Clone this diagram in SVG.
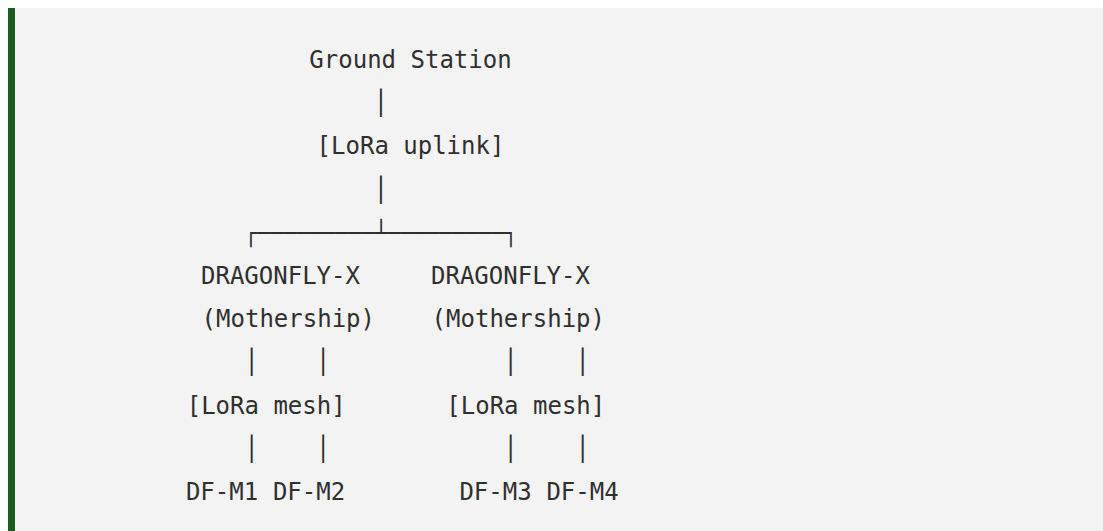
<svg xmlns="http://www.w3.org/2000/svg" width="1103" height="531" viewBox="0 0 1103 531">
<style>
.t{font-family:"DejaVu Sans Mono","Liberation Mono",monospace;font-size:24px;fill:#2f2f2f;text-anchor:middle}
.c{font-family:"DejaVu Sans Mono","Liberation Mono",monospace;font-size:24px;fill:#2f2f2f;text-anchor:middle}
</style>
<rect x="0" y="0" width="1103" height="531" fill="#ffffff"/>
<rect x="8" y="8" width="1095" height="523" fill="#f3f3f3"/>
<rect x="8" y="8" width="7" height="523" fill="#1b5e20"/>
<g id="ground-station"><text class="t" x="410.5" y="68">Ground Station</text></g>
<g id="lora-uplink"><text class="t" x="410.5" y="154.4">[LoRa uplink]</text></g>
<g id="mothership-1"><text class="t" x="280.5" y="284">DRAGONFLY-X</text><text class="t" x="288.3" y="327.2">(Mothership)</text></g>
<g id="mothership-2"><text class="t" x="510.5" y="284">DRAGONFLY-X</text><text class="t" x="518.3" y="327.2">(Mothership)</text></g>
<g id="lora-mesh-1"><text class="t" x="266.2" y="413.6">[LoRa mesh]</text></g>
<g id="lora-mesh-2"><text class="t" x="525.8" y="413.6">[LoRa mesh]</text></g>
<g id="df-m1"><text class="t" x="222" y="500">DF-M1</text></g>
<g id="df-m2"><text class="t" x="309" y="500">DF-M2</text></g>
<g id="df-m3"><text class="t" x="495.5" y="500">DF-M3</text></g>
<g id="df-m4"><text class="t" x="582.5" y="500">DF-M4</text></g>
<g id="connectors">
<text class="c" x="381" y="111.2">│</text>
<text class="c" x="381" y="197.6">│</text>
<text class="c" x="381" y="240.8" textLength="273" lengthAdjust="spacingAndGlyphs">┌─────────┴─────────┐</text>
<text class="c" x="251.7" y="370.4">│</text>
<text class="c" x="323.3" y="370.4">│</text>
<text class="c" x="510.7" y="370.4">│</text>
<text class="c" x="582.7" y="370.4">│</text>
<text class="c" x="251.7" y="456.8">│</text>
<text class="c" x="323.3" y="456.8">│</text>
<text class="c" x="510.7" y="456.8">│</text>
<text class="c" x="582.7" y="456.8">│</text>
</g>
</svg>
